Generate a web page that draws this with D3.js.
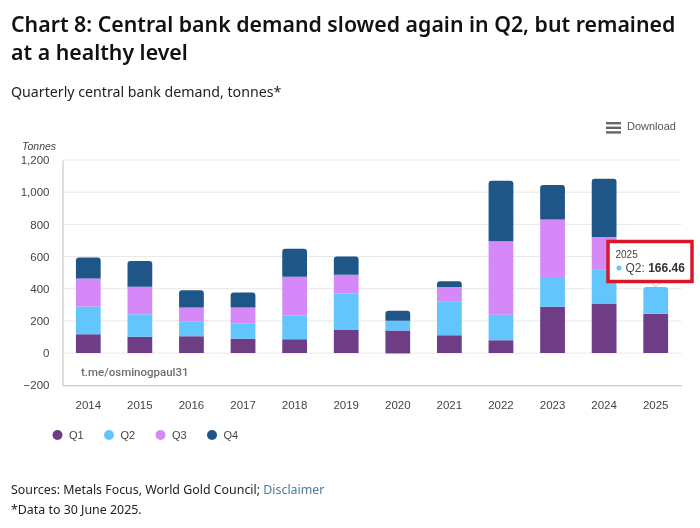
<!DOCTYPE html>
<html>
<head>
<meta charset="utf-8">
<script src="https://cdn.jsdelivr.net/npm/d3@7"></script>
<style>
html, body { margin: 0; padding: 0; background: #fff; }
svg { display: block; filter: blur(0.35px); }
</style>
</head>
<body>
<svg id="svg" width="700" height="528"></svg>
<script>
var years = ['2014', '2015', '2016', '2017', '2018', '2019', '2020', '2021', '2022', '2023', '2024', '2025'];
var quarters = ['Q1', 'Q2', 'Q3', 'Q4'];
var q1 = [117, 101, 105, 90, 86, 144, 140, 111, 80, 288, 308, 245];
var q2 = [173, 141, 90, 93, 148, 226, 61, 208, 158, 178, 210, 166.46];
var q3 = [174, 171, 89, 101, 241, 117, -6, 92, 457, 364, 203, 0];
var q4 = [130, 160, 106, 92, 174, 113, 62, 35, 376, 214, 362, 0];
var yTicks = [-200, 0, 200, 400, 600, 800, 1000, 1200];
var colors = ['#6f3d85', '#62c6fd', '#d588f8', '#1f5688'];

var svg = d3.select('#svg');
var bodyFont = '"Noto Sans", sans-serif';
var chartFont = '"Liberation Sans", Arial, sans-serif';

var plotLeft = 62.5, plotRight = 681.5, plotTop = 160, plotBottom = 385.3;

var x = d3.scaleBand().domain(years).range([plotLeft, plotRight]).paddingInner(0.52).paddingOuter(0.26);
var y = d3.scaleLinear().domain([-200, 1200]).range([plotBottom, plotTop]);

var rows = years.map(function(year, i) {
    return {year: year, Q1: q1[i], Q2: q2[i], Q3: q3[i], Q4: q4[i]};
});
var series = d3.stack().keys(quarters).offset(d3.stackOffsetDiverging)(rows);

// headings
svg.append('text').attr('x', 11).attr('y', 32)
    .attr('font-family', bodyFont).attr('font-size', 21.3).attr('font-weight', 600).attr('fill', '#111')
    .text('Chart 8: Central bank demand slowed again in Q2, but remained');
svg.append('text').attr('x', 11).attr('y', 60)
    .attr('font-family', bodyFont).attr('font-size', 21.3).attr('font-weight', 600).attr('fill', '#111')
    .text('at a healthy level');
svg.append('text').attr('x', 11).attr('y', 97)
    .attr('font-family', bodyFont).attr('font-size', 14.2).attr('fill', '#222')
    .text('Quarterly central bank demand, tonnes*');

// grid and y axis
var yAxis = d3.axisLeft(y).tickValues(yTicks).tickFormat(d3.format(',')).tickSize(0).tickPadding(13);
var gy = svg.append('g').attr('transform', 'translate(' + plotLeft + ',0)').call(yAxis);
gy.select('.domain').attr('stroke', '#bdbdbd').attr('stroke-width', 1);
gy.selectAll('text').attr('font-family', chartFont).attr('font-size', 11.5).attr('fill', '#444');

svg.append('g').selectAll('line').data(yTicks.filter(function(d) { return d > -200; })).enter()
    .append('line')
    .attr('x1', plotLeft).attr('x2', plotRight)
    .attr('y1', function(d) { return y(d); }).attr('y2', function(d) { return y(d); })
    .attr('stroke', '#e8e8e8').attr('stroke-width', 1);

// x axis
var xAxis = d3.axisBottom(x).tickSize(0).tickPadding(15.5);
var gx = svg.append('g').attr('transform', 'translate(0,' + plotBottom + ')').call(xAxis);
gx.select('.domain').attr('stroke', '#bdbdbd').attr('stroke-width', 1);
gx.selectAll('text').attr('font-family', chartFont).attr('font-size', 11.5).attr('fill', '#444');

// top segment of each column gets rounded corners
function isTop(d, k) {
    var i = years.indexOf(d.data.year);
    var last = -1;
    quarters.forEach(function(q, n) { if (rows[i][q] > 0) last = n; });
    return last === k;
}

function segment(d, k) {
    var x0 = x(d.data.year), x1 = x0 + x.bandwidth();
    var yA = y(Math.max(d[0], d[1])), yB = y(Math.min(d[0], d[1]));
    var r = isTop(d, k) ? 3 : 0;
    return 'M' + x0 + ',' + yB + 'V' + (yA + r) + 'Q' + x0 + ',' + yA + ' ' + (x0 + r) + ',' + yA +
        'H' + (x1 - r) + 'Q' + x1 + ',' + yA + ' ' + x1 + ',' + (yA + r) + 'V' + yB + 'Z';
}

svg.append('g').selectAll('g').data(series).enter().append('g')
    .attr('fill', function(d, k) { return colors[k]; })
    .each(function(s, k) {
        d3.select(this).selectAll('path')
            .data(s.filter(function(d) { return d[0] !== d[1]; })).enter()
            .append('path')
            .attr('d', function(d) { return segment(d, k); });
    });

// watermark
svg.append('text').attr('x', 81).attr('y', 376)
    .attr('font-family', 'Roboto, sans-serif').attr('font-size', 11.5).attr('font-weight', 500).attr('fill', '#6e6e6e')
    .text('t.me/osminogpaul31');

// axis title
svg.append('text').attr('x', 22).attr('y', 150)
    .attr('font-family', chartFont).attr('font-size', 10.5).attr('font-style', 'italic').attr('fill', '#444')
    .text('Tonnes');

// download menu
svg.append('g').selectAll('rect').data([0, 1, 2]).enter().append('rect')
    .attr('x', 606).attr('y', function(d) { return 122 + d * 4.6; })
    .attr('width', 15).attr('height', 2.4).attr('fill', '#666');
svg.append('text').attr('x', 627).attr('y', 130)
    .attr('font-family', chartFont).attr('font-size', 11).attr('fill', '#555')
    .text('Download');

// legend
var legend = svg.append('g').selectAll('g').data(quarters).enter().append('g')
    .attr('transform', function(d, i) { return 'translate(' + (57.5 + i * 51.5) + ',435)'; });
legend.append('circle').attr('r', 5).attr('fill', function(d, i) { return colors[i]; });
legend.append('text').attr('x', 11.5).attr('y', 4)
    .attr('font-family', chartFont).attr('font-size', 11).attr('fill', '#444')
    .text(function(d) { return d; });

// tooltip
var tipX = x('2025') + x.bandwidth() / 2;
svg.append('path')
    .attr('d', 'M' + (tipX - 4) + ',283L' + tipX + ',287L' + (tipX + 4) + ',283')
    .attr('fill', '#fff').attr('stroke', '#c9c9c9').attr('stroke-width', 1);
svg.append('rect').attr('x', 608).attr('y', 241.5).attr('width', 84).attr('height', 40)
    .attr('fill', '#fff').attr('stroke', '#d8182a').attr('stroke-width', 3.5);
svg.append('text').attr('x', 615.5).attr('y', 258)
    .attr('font-family', chartFont).attr('font-size', 10).attr('fill', '#444')
    .text(years[11]);
svg.append('circle').attr('cx', 619).attr('cy', 268).attr('r', 2.5).attr('fill', colors[1]);
var tipText = svg.append('text').attr('x', 625.5).attr('y', 272)
    .attr('font-family', chartFont).attr('font-size', 12).attr('fill', '#444');
tipText.append('tspan').text(quarters[1] + ': ');
tipText.append('tspan').attr('font-weight', 700).attr('fill', '#333').text(d3.format('.2f')(q2[11]));

// footer
var sources = svg.append('text').attr('x', 11).attr('y', 494)
    .attr('font-family', bodyFont).attr('font-size', 12.4).attr('fill', '#222');
sources.append('tspan').text('Sources: Metals Focus, World Gold Council; ');
sources.append('tspan').attr('fill', '#4a7a9c').text('Disclaimer');
svg.append('text').attr('x', 11).attr('y', 514)
    .attr('font-family', bodyFont).attr('font-size', 12.4).attr('fill', '#222')
    .text('*Data to 30 June 2025.');
</script>
</body>
</html>
